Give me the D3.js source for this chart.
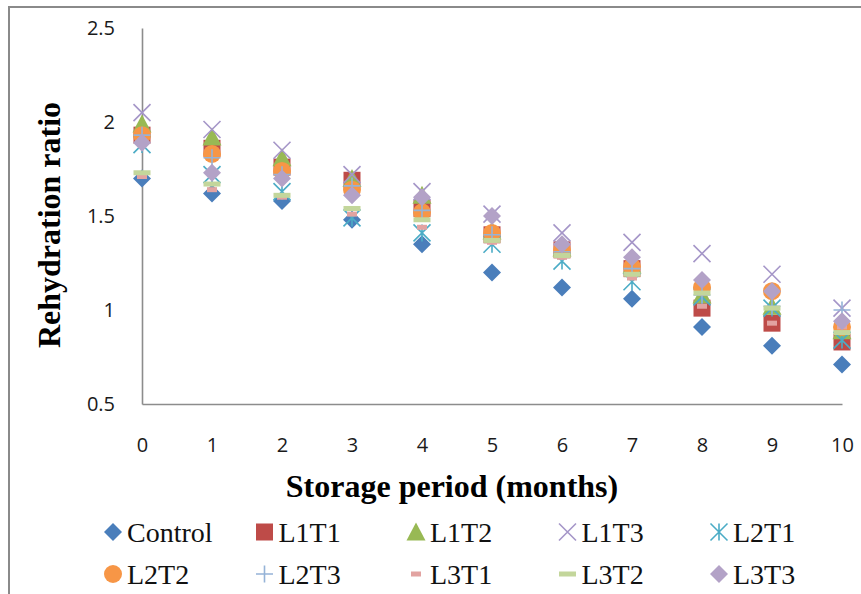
<!DOCTYPE html>
<html>
<head>
<meta charset="utf-8">
<script src="https://cdn.jsdelivr.net/npm/d3@7"></script>
<style>
  html, body { margin: 0; padding: 0; background: #fff; }
  svg { display: block; }
</style>
</head>
<body>
<svg id="chart" width="861" height="594"></svg>
<script>
// Storage months on the x axis
const months = [0, 1, 2, 3, 4, 5, 6, 7, 8, 9, 10];
const xTicks = [0, 1, 2, 3, 4, 5, 6, 7, 8, 9, 10];
const yTicks = [0.5, 1, 1.5, 2, 2.5];

// Rehydration ratio per treatment
const control = [1.70, 1.62, 1.58, 1.48, 1.35, 1.20, 1.12, 1.06, 0.91, 0.81, 0.71];
const l1t1 = [1.93, 1.86, 1.76, 1.69, 1.54, 1.40, 1.32, 1.22, 1.01, 0.93, 0.83];
const l1t2 = [1.99, 1.92, 1.81, 1.70, 1.61, 1.42, 1.33, 1.24, 1.08, 1.02, 0.89];
const l1t3 = [2.05, 1.96, 1.85, 1.72, 1.63, 1.51, 1.41, 1.36, 1.30, 1.19, 1.01];
const l2t1 = [1.88, 1.72, 1.63, 1.49, 1.41, 1.35, 1.26, 1.15, 1.07, 1.01, 0.84];
const l2t2 = [1.93, 1.83, 1.74, 1.64, 1.52, 1.41, 1.32, 1.23, 1.12, 1.10, 0.91];
const l2t3 = [1.93, 1.81, 1.72, 1.66, 1.53, 1.40, 1.31, 1.22, 1.08, 1.02, 1.00];
const l3t1 = [1.71, 1.64, 1.60, 1.51, 1.44, 1.36, 1.28, 1.17, 1.02, 0.93, 0.91];
const l3t2 = [1.73, 1.67, 1.61, 1.54, 1.48, 1.37, 1.29, 1.19, 1.09, 1.01, 0.88];
const l3t3 = [1.89, 1.73, 1.70, 1.61, 1.60, 1.50, 1.35, 1.28, 1.16, 1.10, 0.94];

const seriesNames = ["Control", "L1T1", "L1T2", "L1T3", "L2T1", "L2T2", "L2T3", "L3T1", "L3T2", "L3T3"];
const seriesValues = [control, l1t1, l1t2, l1t3, l2t1, l2t2, l2t3, l3t1, l3t2, l3t3];

// Marker style for each treatment
const markerShapes = ["diamond", "square", "triangle", "x", "star", "circle", "plus", "shortDash", "dash", "diamond"];
const markerColors = ["#4A7EBB", "#BE4B48", "#98B954", "#A596C8", "#4BACC6", "#F79646", "#95B3D7", "#E2A3A1", "#C3D69B", "#B3A2C7"];

const svg = d3.select("#chart");

const x = d3.scaleLinear().domain([0, 10]).range([142, 842]);
const y = d3.scaleLinear().domain([0.5, 2.5]).range([404, 28]);

// outer chart frame
svg.append("path")
  .attr("d", "M9,600 L9,7 L870,7")
  .attr("fill", "none")
  .attr("stroke", "#8a8a8a")
  .attr("stroke-width", 2);

// axes (labels only, no tick marks)
const yAxis = d3.axisLeft(y).tickValues(yTicks).tickSize(0).tickPadding(27)
  .tickFormat(d => d3.format("")(d));
const xAxis = d3.axisBottom(x).tickValues(xTicks).tickSize(0).tickPadding(34);

const gy = svg.append("g").attr("transform", `translate(${x(0)},0)`).call(yAxis);
const gx = svg.append("g").attr("transform", `translate(0,${y(0.5)})`).call(xAxis);

[gx, gy].forEach(g => {
  g.select(".domain").attr("stroke", "#8c8c8c").attr("stroke-width", 1.6);
  g.selectAll("text")
    .attr("font-family", "'Open Sans', 'Noto Sans', sans-serif")
    .attr("font-size", 20)
    .attr("fill", "#1a1a1a");
});

// axis titles
svg.append("text")
  .attr("transform", "translate(60,225) rotate(-90)")
  .attr("text-anchor", "middle")
  .attr("font-family", "'Liberation Serif', 'Times New Roman', serif")
  .attr("font-weight", "bold")
  .attr("font-size", 32)
  .text("Rehydration ratio");

svg.append("text")
  .attr("x", 452)
  .attr("y", 497)
  .attr("text-anchor", "middle")
  .attr("font-family", "'Liberation Serif', 'Times New Roman', serif")
  .attr("font-weight", "bold")
  .attr("font-size", 32)
  .text("Storage period (months)");

// draws one marker of the given shape centred at the origin of g
function drawMarker(g, shape, color) {
  const s = 8.5;
  if (shape === "diamond") {
    g.append("path").attr("d", `M0,${-s - 0.5} L${s + 0.5},0 L0,${s + 0.5} L${-s - 0.5},0 Z`).attr("fill", color);
  } else if (shape === "square") {
    g.append("rect").attr("x", -s).attr("y", -s).attr("width", 2 * s).attr("height", 2 * s).attr("fill", color);
  } else if (shape === "triangle") {
    g.append("path").attr("d", `M0,${-s - 1} L${s + 1},${s} L${-s - 1},${s} Z`).attr("fill", color);
  } else if (shape === "circle") {
    g.append("circle").attr("r", s + 0.5).attr("fill", color);
  } else if (shape === "x") {
    g.append("path").attr("d", `M${-s},${-s} L${s},${s} M${s},${-s} L${-s},${s}`)
      .attr("stroke", color).attr("stroke-width", 1.6).attr("fill", "none");
  } else if (shape === "plus") {
    g.append("path").attr("d", `M${-s},0 L${s},0 M0,${-s} L0,${s}`)
      .attr("stroke", color).attr("stroke-width", 1.6).attr("fill", "none");
  } else if (shape === "star") {
    g.append("path").attr("d", `M${-s},${-s} L${s},${s} M${s},${-s} L${-s},${s} M0,${-s} L0,${s}`)
      .attr("stroke", color).attr("stroke-width", 1.6).attr("fill", "none");
  } else if (shape === "shortDash") {
    g.append("rect").attr("x", -5).attr("y", -2.5).attr("width", 10).attr("height", 5).attr("fill", color);
  } else if (shape === "dash") {
    g.append("rect").attr("x", -s).attr("y", -2.5).attr("width", 2 * s).attr("height", 5).attr("fill", color);
  }
}

// scatter points, in series order
seriesValues.forEach((vals, i) => {
  const grp = svg.append("g").attr("class", "series");
  grp.selectAll("g.pt")
    .data(vals.map((v, j) => ({ m: months[j], v })))
    .join("g")
    .attr("class", "pt")
    .attr("transform", d => `translate(${x(d.m)},${y(d.v)})`)
    .each(function () { drawMarker(d3.select(this), markerShapes[i], markerColors[i]); });
});

// legend: two rows of five
const legend = svg.append("g");
seriesNames.forEach((name, i) => {
  const col = i % 5, row = Math.floor(i / 5);
  const lx = 113 + col * 151.5, ly = 532 + row * 42;
  const item = legend.append("g").attr("transform", `translate(${lx},${ly})`);
  drawMarker(item, markerShapes[i], markerColors[i]);
  item.append("text")
    .attr("x", 14)
    .attr("y", 10)
    .attr("font-family", "'Liberation Serif', 'Times New Roman', serif")
    .attr("font-size", 28)
    .attr("fill", "#111")
    .text(name);
});
</script>
</body>
</html>
